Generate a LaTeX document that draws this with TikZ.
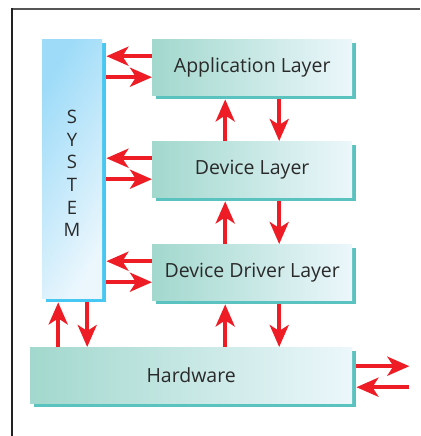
\documentclass[tikz,border=0pt]{standalone}
\usepackage{fontspec}
\setmainfont{Open Sans}
\usetikzlibrary{arrows.meta,shadows,calc}
\definecolor{arrred}{HTML}{EE1C25}
\definecolor{laydark}{HTML}{A2D8CD}
\definecolor{laylight}{HTML}{ECF7FB}
\definecolor{layshadow}{HTML}{5BC3BF}
\definecolor{sysdark}{HTML}{9DDBF8}
\definecolor{syslight}{HTML}{ECF7FD}
\definecolor{sysshadow}{HTML}{46C8F2}
\definecolor{txt}{HTML}{2A2A2A}
\definecolor{framegray}{HTML}{555555}
\definecolor{framedark}{HTML}{222222}
\begin{document}
\begin{tikzpicture}[x=1pt,y=-1pt,
  box/.style={anchor=north west, inner sep=0pt, text=txt,
    font=\fontsize{19.5}{23}\selectfont},
  layer/.style={box, minimum width=200pt, minimum height=56pt,
    left color=laydark, right color=laylight,
    general shadow={fill=layshadow, shadow xshift=4pt, shadow yshift=-4pt}},
  sysbox/.style={box, minimum width=60pt, minimum height=259pt,
    left color=sysdark, right color=syslight, shading angle=60,
    general shadow={fill=sysshadow, shadow xshift=4pt, shadow yshift=-4pt}},
  arr/.style={draw=arrred, line width=4.5pt,
    -{Stealth[length=22pt,width=19pt,inset=6pt]}}]
\useasboundingbox (0,0) rectangle (420,436);
% frame
\draw[framegray, line width=2pt] (11,9) -- (420,9);
\draw[framedark, line width=1.5pt] (12,8) -- (12,436);
% nodes
\node[sysbox] (sys) at (42,39) {};
\node[box, align=center, anchor=center, font=\fontsize{18.5}{22.6}\selectfont]
  (syslabel) at (72,173.5) {S\\Y\\S\\T\\E\\M};
\node[layer] (app) at (152,39) {Application Layer};
\node[layer] (dev) at (152,141) {Device Layer};
\node[layer] (drv) at (152,244) {Device Driver Layer};
\node[layer, minimum width=322pt] (hw) at (30,347) {Hardware};
\coordinate (hwout) at ($(hw.east)+(57,0)$);
% system <-> layers
\foreach \n in {app,dev,drv}{
  \draw[arr] ($(\n.west)+(0,-11)$) -- ($(sys.east |- \n.west)+(4,-11)$);
  \draw[arr] ($(sys.east |- \n.west)+(4,10)$) -- ($(\n.west)+(0,10)$);
}
% vertical between layers
\draw[arr] ($(dev.north)+(-27,0)$) -- ($(app.south)+(-27,4)$);
\draw[arr] ($(app.south)+(27,4)$) -- ($(dev.north)+(27,0)$);
\draw[arr] ($(drv.north)+(-27,0)$) -- ($(dev.south)+(-27,4)$);
\draw[arr] ($(dev.south)+(27,4)$) -- ($(drv.north)+(27,0)$);
\draw[arr] ($(hw.north -| drv.south)+(-27,0)$) -- ($(drv.south)+(-27,4)$);
\draw[arr] ($(drv.south)+(27,4)$) -- ($(hw.north -| drv.south)+(27,0)$);
% system <-> hardware
\draw[arr] ($(hw.north -| sys.south)+(-14,0)$) -- ($(sys.south)+(-14,4)$);
\draw[arr] ($(sys.south)+(15,4)$) -- ($(hw.north -| sys.south)+(15,0)$);
% hardware <-> outside
\draw[arr] ($(hw.east)+(4,-9)$) -- ($(hwout)+(0,-9)$);
\draw[arr] ($(hwout)+(0,12)$) -- ($(hw.east)+(4,12)$);
\end{tikzpicture}
\end{document}
